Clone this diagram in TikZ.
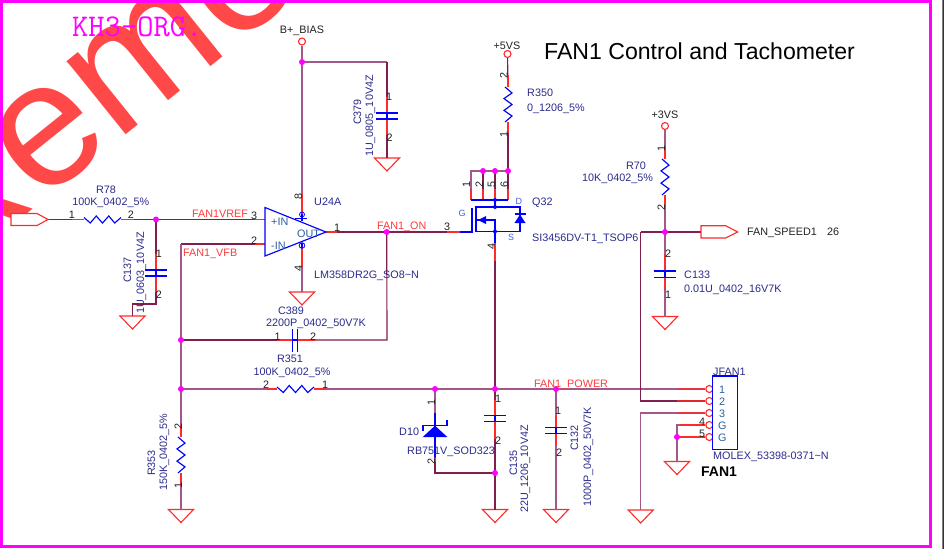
\documentclass[tikz,border=0pt]{standalone}
\usepackage{fontspec}
\setmainfont{Liberation Sans}
\definecolor{wirec}{HTML}{7E1F50}
\definecolor{wirel}{HTML}{A4588A}
\definecolor{pinc}{HTML}{FF2A2A}
\definecolor{bodyc}{HTML}{0000FF}
\definecolor{txtc}{HTML}{2B2B8C}
\definecolor{netc}{HTML}{FF3B3B}
\definecolor{numc}{HTML}{222222}
\definecolor{junc}{HTML}{FF00FF}
\definecolor{steelc}{HTML}{2A5F9E}
\definecolor{wmc}{HTML}{FF4848}
\definecolor{softc}{HTML}{4060E0}
\newcommand{\fs}{\fontsize{10.8}{12}\selectfont}
\tikzset{
  wire/.style={draw=wirec,line width=1.15pt},
  wirelt/.style={draw=wirel,line width=1.3pt},
  pinw/.style={draw=pinc,line width=1.15pt},
  body/.style={draw=bodyc,line width=1.15pt},
  gndsym/.style={draw=pinc,line width=1.1pt,fill=white,line join=miter},
  flagsym/.style={draw=pinc,line width=1.1pt,fill=white},
  lab/.style={inner sep=0pt,anchor=base west,font=\fs,text=txtc},
  labc/.style={lab,anchor=base},
  labr/.style={labc,rotate=90},
  net/.style={lab,text=netc},
  blk/.style={lab,text=numc},
  blkc/.style={labc,text=numc},
  num/.style={labc,text=numc},
  numr/.style={labr,text=numc},
  steel/.style={lab,text=steelc},
  dotj/.style={circle,fill=junc,draw=none,minimum size=6pt,inner sep=0pt},
  dotb/.style={circle,fill=bodyc,draw=none,minimum size=4pt,inner sep=0pt},
  pwr/.style={circle,draw=pinc,line width=1.1pt,fill=white,minimum size=7pt,inner sep=0pt},
}
% ground symbol: top centre at named coordinate
\newcommand{\gnd}[3]{\coordinate (#1) at (#2,#3);
  \draw[gndsym] (#2-12.5,#3) -- (#2+12.5,#3) -- (#2,#3+13) -- cycle;}
% resistors
\newcommand{\resh}[3]{\draw[body,line join=miter] (#1,#3-2) -- ({#1+.17*(#2-#1)},#3+3.5) -- ({#1+.33*(#2-#1)},#3-3.5) -- ({#1+.5*(#2-#1)},#3+3.5) -- ({#1+.67*(#2-#1)},#3-3.5) -- ({#1+.83*(#2-#1)},#3+3.5) -- (#2,#3-2);}
\newcommand{\resv}[3]{\draw[body,line join=miter] (#1-3,#2) -- (#1+4,{#2+.17*(#3-#2)}) -- (#1-4,{#2+.33*(#3-#2)}) -- (#1+4,{#2+.5*(#3-#2)}) -- (#1-4,{#2+.67*(#3-#2)}) -- (#1+4,{#2+.83*(#3-#2)}) -- (#1-3,#3);}
% horizontal-plate capacitor
\newcommand{\capv}[3]{\draw[body] (#1-11,#2) -- (#1+11,#2) (#1-11,#3) -- (#1+11,#3) (#1,#2) -- (#1,#3);}
\begin{document}
\begin{tikzpicture}[x=1pt,y=-1pt]
\useasboundingbox (0,0) rectangle (944,549);
\fill[white] (0,0) rectangle (944,549);
% watermark
\begin{scope}
\clip (0,0) rectangle (931,547);
\node[inner sep=0pt,anchor=base west,rotate=38.8,text=wmc,font=\fontsize{178}{178}\selectfont] (wm) at (-61,285) {Remember};
\end{scope}
% frame
\draw[junc,line width=3pt] (1,1.5) -- (930.5,1.5) -- (930.5,546.5) -- (1,546.5) -- cycle;
\fill[gray] (942,0) rectangle (943,549);
\fill[black!80] (943,0) rectangle (944,549);
% named points
\coordinate (inL) at (48,219.5);
\coordinate (r78a) at (84,219.5);
\coordinate (r78b) at (121,219.5);
\coordinate (ip) at (265,219.5);
\coordinate (im) at (265,244);
\coordinate (vfb) at (181,244);
\coordinate (oaT) at (326,232);
\coordinate (gate) at (472,232);
\coordinate (c137a) at (156,270);
\coordinate (c137b) at (156,276);
\coordinate (c137c) at (156,304);
\coordinate (c137d) at (132.5,304);
\coordinate (vp) at (302,214);
\coordinate (vm) at (302,248);
\coordinate (c379t) at (387,62);
\coordinate (c379a) at (387,113);
\coordinate (c379b) at (387,119);
\coordinate (c389c) at (387,340);
\coordinate (c389a) at (292.3,340);
\coordinate (c389b) at (297.7,340);
\coordinate (r351a) at (277,389);
\coordinate (r351b) at (314,389);
\coordinate (r353a) at (181,437);
\coordinate (r353b) at (181,473);
\coordinate (r350a) at (508,87);
\coordinate (r350b) at (508,122);
\coordinate (qtl) at (471,171);
\coordinate (qbl) at (471,200);
\coordinate (qbr) at (508,200);
\coordinate (qb2) at (483,200);
\coordinate (q5) at (495,200);
\coordinate (qd) at (495,207);
\coordinate (qs) at (495,231.5);
\coordinate (r70a) at (665,159);
\coordinate (r70b) at (665,195);
\coordinate (c133a) at (665,271);
\coordinate (c133b) at (665,277.5);
\coordinate (spdL) at (640.7,232);
\coordinate (spdF) at (701,232);
\coordinate (p2c) at (640.7,401);
\coordinate (p3c) at (640.7,413);
\coordinate (c135a) at (495,415.7);
\coordinate (c135b) at (495,421.7);
\coordinate (c132a) at (556,427.7);
\coordinate (c132b) at (556,433.3);
\coordinate (d10a) at (435,425.7);
\coordinate (d10b) at (435,473);
% grounds
\gnd{g137}{132.5}{316}
\gnd{g24}{302}{292}
\gnd{g379}{387}{158}
\gnd{g353}{181}{509.5}
\gnd{g135}{495}{509.5}
\gnd{g132}{556}{509.5}
\gnd{g133}{665}{316.5}
\gnd{g3}{640.7}{510}
\gnd{gj}{677}{461.5}
% terminals
\node[pwr] (bias) at (302,41.5) {};
\node[pwr] (p5) at (507.5,54) {};
\node[pwr] (p3) at (665,126) {};
\node[pwr] (j1) at (709.3,389) {};
\node[pwr] (j2) at (709.3,401) {};
\node[pwr] (j3) at (709.3,413) {};
\node[pwr] (j4) at (709.3,425) {};
\node[pwr] (j5) at (709.3,437) {};
% junction points
\coordinate (n1) at (156,219.5);
\coordinate (n2) at (302,62);
\coordinate (n3) at (386.7,232);
\coordinate (n4) at (181,340);
\coordinate (n5) at (181,389);
\coordinate (n6) at (435,389);
\coordinate (n7) at (495,389);
\coordinate (n8) at (556,389);
\coordinate (n9) at (495,473);
\coordinate (n10) at (665,232);
\coordinate (n11) at (677,437);
\coordinate (n12) at (483,171);
\coordinate (n13) at (495,171);
\coordinate (n14) at (508,171);
\coordinate (gj4) at (677,425);
% wires
\draw[wire] (inL) -- (r78a);
\draw[wire] (r78b) -- (ip);
\draw[wire] (n1) -- (c137a);
\draw[wire] (c137b) -- (c137c) -- (c137d) -- (g137);
\draw[wirelt] (bias) -- (vp);
\draw[wirelt] (vm) -- (g24);
\draw[wirelt] (n2) -- (c379t);
\draw[wire] (c379t) -- (c379a);
\draw[wire] (c379b) -- (g379);
\draw[wire] (im) -- (vfb);
\draw[wirelt] (vfb) -- (n4);
\draw[wirelt] (n4) -- (n5);
\draw[wirelt] (n5) -- (r353a);
\draw[wirelt] (r353b) -- (g353);
\draw[wire] (oaT) -- (gate);
\draw[wire] (n3) -- (c389c) -- (c389b);
\draw[wire] (c389a) -- (n4);
\draw[wirelt] (n5) -- (r351a);
\draw[wirelt] (r351b) -- (j1);
\draw[wire] (qs) -- (n7);
\draw[wire] (n7) -- (c135a);
\draw[wire] (c135b) -- (g135);
\draw[wirelt] (n6) -- (d10a);
\draw[wire] (d10a) -- (d10b) -- (n9);
\draw[wirelt] (n8) -- (c132a);
\draw[wirelt] (c132b) -- (g132);
\draw[wire] (p5) -- (r350a);
\draw[wire] (r350b) -- (n14);
\draw[wirelt] (n14) -- (qtl) -- (qbl);
\draw[wire] (n12) -- (qb2);
\draw[wire] (n13) -- (q5);
\draw[wire] (n14) -- (qbr);
\draw[wirelt] (p3) -- (r70a);
\draw[wirelt] (r70b) -- (c133a);
\draw[wirelt] (c133b) -- (g133);
\draw[wire] (spdL) -- (spdF);
\draw[wire] (spdL) -- (p2c) -- (j2);
\draw[wirelt] (j3) -- (p3c) -- (g3);
\draw[wirelt] (j4) -- (gj4) -- (gj);
\draw[pinw] (j5) -- (n11);
% red pin stubs
\draw[pinw] (r78a) -- ++(-12,0);
\draw[pinw] (r78b) -- ++(13,0);
\draw[pinw] (ip) -- ++(-10,0);
\draw[pinw] (im) -- ++(-10,0);
\draw[pinw] (oaT) -- ++(11,0);
\draw[pinw] (c137a) -- ++(0,-16);
\draw[pinw] (c137b) -- ++(0,16);
\draw[pinw] (c379a) -- ++(0,-16);
\draw[pinw] (c379b) -- ++(0,16);
\draw[pinw] (c389a) -- ++(-15,0);
\draw[pinw] (c389b) -- ++(17,0);
\draw[pinw] (r351a) -- ++(-10,0);
\draw[pinw] (r351b) -- ++(12,0);
\draw[pinw] (r353a) -- ++(0,-12);
\draw[pinw] (r353b) -- ++(0,12);
\draw[pinw] (r350a) -- ++(0,-12);
\draw[pinw] (r350b) -- ++(0,11);
\draw[pinw] (r70a) -- ++(0,-12);
\draw[pinw] (r70b) -- ++(0,12);
\draw[pinw] (c133a) -- ++(0,-17);
\draw[pinw] (c133b) -- ++(0,12);
\draw[pinw] (c135a) -- ++(0,-16);
\draw[pinw] (c135b) -- ++(0,17);
\draw[pinw] (c132a) -- ++(0,-12);
\draw[pinw] (c132b) -- ++(0,12);
\draw[pinw] (d10a) -- ++(0,-13);
\draw[pinw] (d10a) ++(0,32) -- ++(0,4);
\draw[pinw] (qbl) -- ++(0,-11);
\draw[pinw] (qb2) -- ++(0,-11);
\draw[pinw] (q5) -- ++(0,-11);
\draw[pinw] (qbr) -- ++(0,-11);
\draw[pinw] (qs) ++(0,11) -- ++(0,18);
\draw[pinw] (gate) ++(-12,0) -- ++(-13,0);
\draw[pinw] (vp) -- ++(0,-20);
\draw[pinw] (vm) -- ++(0,20);
\draw[pinw,opacity=.75] (j1) -- ++(-32,0);
\draw[pinw,opacity=.75] (j2) -- ++(-32,0);
\draw[pinw,opacity=.75] (j3) -- ++(-32,0);
\draw[pinw] (j4) -- ++(-29,0);
% flags
\draw[flagsym] (11,213.5) -- (37,213.5) -- (inL) -- (37,225.5) -- (11,225.5) -- cycle;
\draw[flagsym] (spdF) ++(0,-6.3) -- ++(24.7,0) -- (737.7,232) -- (725.7,238) -- (701,238) -- cycle;
% resistors
\resh{84}{121}{219.5}
\resh{277}{314}{389}
\resv{181}{437}{473}
\resv{508}{87}{122}
\resv{665}{159}{195}
% capacitors
\capv{156}{270}{276}
\capv{387}{113}{119}
\capv{495}{415.7}{421.7}
\capv{556}{427.7}{433.3}
\capv{665}{271}{277.5}
\draw[body] (292.3,329) -- (292.3,352) (297.7,329) -- (297.7,352) (c389a) -- (c389b);
% op amp
\draw[body,line join=miter] (265,207.5) -- (oaT) -- (265,256) -- cycle;
\draw[body] (vp) -- (302,221) (vm) -- (302,243);
\draw[body,line width=.8pt] (295,218) -- (307,218);
\draw[body,line width=.8pt] (302,214.5) circle (2.5);
\draw[body,line width=.8pt] (302,245.5) circle (2.8);
% MOSFET
\draw[body] (qbl) -- (qbr);
\draw[body] (q5) -- (qd);
\draw[body] (476,207) -- (520,207) -- (520,231.5) -- (476,231.5) -- cycle;
\draw[body] (gate) ++(-12,0) -- (gate) -- (472,208);
\draw[body] (476,220) -- (495,220) -- (qs) -- ++(0,11);
\fill[bodyc] (478,220) -- (486,216) -- (486,224) -- cycle;
\fill[bodyc] (520,214.5) -- (525.5,223) -- (514.5,223) -- cycle;
\draw[body] (514.5,214) -- (525.5,214);
\node[dotb] (qdotA) at (q5) {};
\node[dotb] (qdotB) at (qd) {};
\node[dotb] (qdotC) at (qs) {};
% D10
\draw[body] (d10a) ++(0,-12.5) -- ++(0,44);
\fill[bodyc] (435,425.7) -- (447.3,437) -- (422.7,437) -- cycle;
\draw[body] (423,430.5) -- (423,425.5) -- (447,425.5) -- (447,419.5);
% connector
\draw[body,fill=white] (712.7,376) rectangle (737.3,449.3);
% junctions
\foreach \n in {n1,n2,n3,n4,n5,n6,n7,n8,n9,n10,n11,n12,n13,n14}{\node[dotj] (d\n) at (\n) {};}
% texts
\node[lab,font=\fontsize{31.6}{32}\selectfont\ttfamily,text=junc] (kh) at (72,36) {KH3-ORG.};
\node[lab,font=\fontsize{23.1}{24}\selectfont,text=black] (ttl) at (544,59) {FAN1 Control and Tachometer};
\node[blkc] (tb) at (302,33) {B+\_BIAS};
\node[blkc] (t5) at (507,49) {+5VS};
\node[blkc] (t3) at (665,118) {+3VS};
\node[labc] (tr78) at (106,193) {R78};
\node[labc] (tr78v) at (110.7,205) {100K\_0402\_5\%};
\node[net] (tvref) at (192,217) {FAN1VREF};
\node[net] (tvfb) at (183,256) {FAN1\_VFB};
\node[net] (ton) at (377,229) {FAN1\_ON};
\node[net] (tpow) at (534,387) {FAN1\_POWER};
\node[steel] (tpi) at (271,225) {+IN};
\node[steel] (tmi) at (271,249) {-IN};
\node[steel] (tout) at (297,237) {OUT};
\node[lab] (tu) at (314,205) {U24A};
\node[lab] (tlm) at (314,278) {LM358DR2G\_SO8\textasciitilde N};
\node[labc] (tc389) at (291,314) {C389};
\node[labc] (tc389v) at (316,326) {2200P\_0402\_50V7K};
\node[labc] (tr351) at (290,362) {R351};
\node[labc] (tr351v) at (292,375) {100K\_0402\_5\%};
\node[lab] (tr350) at (527,96) {R350};
\node[lab] (tr350v) at (527,111) {0\_1206\_5\%};
\node[labc] (tr70) at (636,169) {R70};
\node[lab] (tr70v) at (582,181) {10K\_0402\_5\%};
\node[lab] (tq) at (532,205) {Q32};
\node[lab] (tqv) at (532,241.5) {SI3456DV-T1\_TSOP6};
\node[lab,font=\fontsize{9}{10}\selectfont,text=softc] (tg) at (458.5,216.5) {G};
\node[lab,font=\fontsize{9}{10}\selectfont,text=softc] (td) at (515.5,204.5) {D};
\node[lab,font=\fontsize{9}{10}\selectfont,text=softc] (ts) at (508,240.5) {S};
\node[blk] (tsp) at (747,235) {FAN\_SPEED1};
\node[blk] (t26) at (827,235) {26};
\node[lab] (tc133) at (684,278) {C133};
\node[lab] (tc133v) at (684,292) {0.01U\_0402\_16V7K};
\node[lab] (tjf) at (713,375) {JFAN1};
\node[lab] (tmx) at (713,459) {MOLEX\_53398-0371\textasciitilde N};
\node[lab,font=\bfseries\fontsize{14}{15}\selectfont,text=black] (tfan) at (701,476) {FAN1};
\node[lab] (td10) at (399,435) {D10};
\node[lab] (trb) at (407,454) {RB751V\_SOD323};
\node[steel] (pa1) at (719,393) {1};
\node[steel] (pa2) at (719,405) {2};
\node[steel] (pa3) at (719,417) {3};
\node[steel] (pa4) at (718,429) {G};
\node[steel] (pa5) at (718,441) {G};
% rotated labels
\node[labr] (tc137) at (131,270) {C137};
\node[labr] (tc137v) at (144,273) {1U\_0603\_10V4Z};
\node[labr] (tc379) at (361,112) {C379};
\node[labr] (tc379v) at (373,116) {1U\_0805\_10V4Z};
\node[labr] (tr353) at (155,463) {R353};
\node[labr] (tr353v) at (167,452) {150K\_0402\_5\%};
\node[labr] (tc135) at (517,463) {C135};
\node[labr] (tc135v) at (528,469) {22U\_1206\_10V4Z};
\node[labr] (tc132) at (578,438) {C132};
\node[labr] (tc132v) at (591,457) {1000P\_0402\_50V7K};
% pin numbers
\node[num] at (72,218) (a1) {1};
\node[num] at (131,218) (a2) {2};
\node[num] at (254,219) (a3) {3};
\node[num] at (254,244) (a4) {2};
\node[num] at (337,231) (a5) {1};
\node[num] at (447,230) (a6) {3};
\node[num] at (159,257) (a7) {1};
\node[num] at (159,298) (a8) {2};
\node[num] at (389,100) (a9) {1};
\node[num] at (389.5,141) (a10) {2};
\node[num] at (277.5,340) (a11) {1};
\node[num] at (313,340) (a12) {2};
\node[num] at (266,388) (a13) {2};
\node[num] at (325,388) (a14) {1};
\node[num] at (498,402) (a15) {1};
\node[num] at (498,444) (a16) {2};
\node[num] at (558,414) (a17) {1};
\node[num] at (559,456) (a18) {2};
\node[num] at (668,257) (a19) {2};
\node[num] at (668,298) (a20) {1};
\node[num] at (702,425) (a21) {4};
\node[num] at (702,437) (a22) {5};
\node[numr] at (302,196) (b1) {8};
\node[numr] at (302,268) (b2) {4};
\node[numr] at (507.5,75) (b3) {2};
\node[numr] at (507.5,134) (b4) {1};
\node[numr] at (470,184) (b5) {1};
\node[numr] at (483,184) (b6) {2};
\node[numr] at (495,184) (b7) {5};
\node[numr] at (508,184) (b8) {6};
\node[numr] at (495,246) (b9) {4};
\node[numr] at (665,148) (b10) {1};
\node[numr] at (665,207) (b11) {2};
\node[numr] at (182,426) (b12) {2};
\node[numr] at (182,485) (b13) {1};
\node[numr] at (435,402) (b14) {1};
\node[numr] at (435,461) (b15) {2};
\end{tikzpicture}
\end{document}
